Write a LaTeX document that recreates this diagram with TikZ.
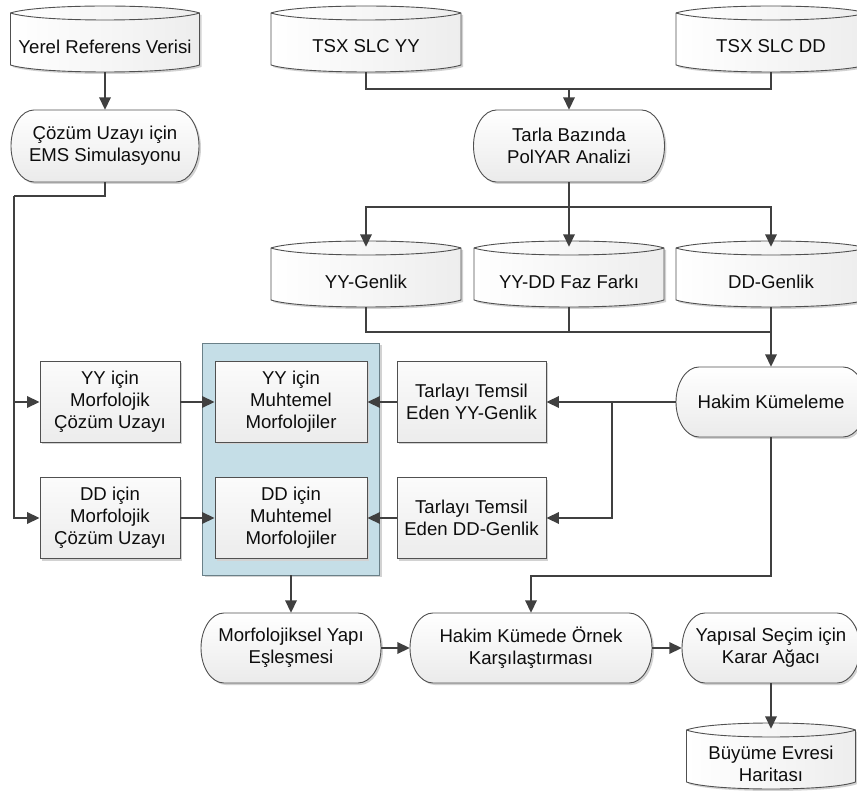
\documentclass[tikz,border=0pt]{standalone}
\usepackage{fontspec}
\setmainfont{Liberation Sans}
\usetikzlibrary{arrows.meta,calc,shadows}
\definecolor{lncol}{HTML}{404040}
\definecolor{shcol}{HTML}{505050}
\definecolor{shadowc}{HTML}{D2D2D2}
\definecolor{grpfill}{RGB}{197,222,231}
\definecolor{grpline}{HTML}{6A8088}
\tikzset{
 txt/.style={font=\fontsize{18.6}{22}\selectfont, align=center, inner sep=0pt, text=black!95},
 conn/.style={draw=lncol, line width=1.8pt},
 arr/.style={conn, -{Triangle[length=12.5pt,width=11.5pt]}},
 shapeline/.style={draw=shcol, line width=0.9pt},
 cylshade/.style={left color=white, right color=gray!14},
 stadshade/.style={top color=white, bottom color=gray!16},
 rbox/.style={txt, rectangle, shapeline, top color=gray!3, bottom color=gray!15,
   drop shadow={shadow xshift=2pt, shadow yshift=-2pt, fill=shadowc, opacity=1}},
 grpbox/.style={rectangle, draw=grpline, line width=0.9pt, fill=grpfill,
   drop shadow={shadow xshift=2pt, shadow yshift=-2pt, fill=shadowc, opacity=1}},
}
% cylinder-like data store: name, cx, top, width, height, text
\newcommand{\cyl}[6]{%
 \pgfmathsetmacro{\cL}{#2-#4/2}%
 \pgfmathsetmacro{\cR}{#2+#4/2}%
 \pgfmathsetmacro{\cLc}{#2-0.35*#4}%
 \pgfmathsetmacro{\cRc}{#2+0.35*#4}%
 \pgfmathsetmacro{\cA}{#3+7}%
 \pgfmathsetmacro{\cU}{#3-2.33}%
 \pgfmathsetmacro{\cD}{#3+16.33}%
 \pgfmathsetmacro{\cE}{#3+#5-7}%
 \pgfmathsetmacro{\cF}{#3+#5+2.33}%
 \pgfmathsetmacro{\cM}{#3+15+(#5-15)/2}%
 \pgfmathsetmacro{\cH}{#5-15}%
 \def\cylp{(\cL,\cA) .. controls (\cLc,\cU) and (\cRc,\cU) .. (\cR,\cA) -- (\cR,\cE) .. controls (\cRc,\cF) and (\cLc,\cF) .. (\cL,\cE) -- cycle}%
 \fill[shadowc, xshift=2pt, yshift=-2pt] \cylp;
 \shade[cylshade, shapeline] \cylp;
 \draw[shapeline] (\cL,\cA) .. controls (\cLc,\cD) and (\cRc,\cD) .. (\cR,\cA);
 \node[txt, minimum width={#4*1pt}, minimum height={\cH*1pt}] (#1) at (#2,\cM) {#6};
}
% stadium (terminator): name, L, R, T, B, rx, text
\newcommand{\stad}[7]{%
 \pgfmathsetmacro{\sCx}{(#2+#3)/2}%
 \pgfmathsetmacro{\sCy}{(#4+#5)/2}%
 \pgfmathsetmacro{\sRy}{(#5-#4)/2}%
 \pgfmathsetmacro{\sLa}{#2+#6}%
 \pgfmathsetmacro{\sRa}{#3-#6}%
 \pgfmathsetmacro{\sLb}{#2+#6-0.5523*#6}%
 \pgfmathsetmacro{\sRb}{#3-#6+0.5523*#6}%
 \pgfmathsetmacro{\sTy}{\sCy-0.5523*\sRy}%
 \pgfmathsetmacro{\sBy}{\sCy+0.5523*\sRy}%
 \def\stp{(\sLa,#4) -- (\sRa,#4) .. controls (\sRb,#4) and (#3,\sTy) .. (#3,\sCy) .. controls (#3,\sBy) and (\sRb,#5) .. (\sRa,#5) -- (\sLa,#5) .. controls (\sLb,#5) and (#2,\sBy) .. (#2,\sCy) .. controls (#2,\sTy) and (\sLb,#4) .. (\sLa,#4) -- cycle}%
 \fill[shadowc, xshift=2pt, yshift=-2pt] \stp;
 \shade[stadshade, shapeline] \stp;
 \node[txt, minimum width={(#3-#2)*1pt}, minimum height={(#5-#4)*1pt}] (#1) at (\sCx,\sCy) {#7};
}
\begin{document}
\begin{tikzpicture}[x=1pt,y=-1pt]
\path[use as bounding box] (0,0) rectangle (857,791);
\clip (0,0) rectangle (857,791);

% data stores
\cyl{yrv}{105}{6}{189}{66}{Yerel Referens Verisi}
\cyl{tsxyy}{366}{6}{190}{66}{TSX SLC YY}
\cyl{tsxdd}{771}{6}{190}{66}{TSX SLC DD}
\cyl{yyg}{366}{241}{190}{66}{YY-Genlik}
\cyl{faz}{569}{241}{190}{66}{YY-DD Faz Farkı}
\cyl{ddg}{771}{241}{190}{66}{DD-Genlik}
\cyl{buy}{771}{723}{169}{66}{Büyüme Evresi\\Haritası}

% terminators
\stad{cozum}{11}{199}{110}{182}{23}{Çözüm Uzayı için\\EMS Simulasyonu}
\stad{tarla}{473.5}{664.5}{110}{182}{23}{Tarla Bazında\\PolYAR Analizi}
\stad{hakim}{676}{866}{367}{437}{23}{Hakim Kümeleme}
\stad{morf}{201}{381}{613}{683}{23}{Morfolojiksel Yapı\\Eşleşmesi}
\stad{hkm}{410}{652}{613}{683}{23}{Hakim Kümede Örnek\\Karşılaştırması}
\stad{yap}{682}{860}{613}{683}{23}{Yapısal Seçim için\\Karar Ağacı}

% group and boxes
\node[grpbox, minimum width=177pt, minimum height=232pt] (grp) at (291,459) {};
\node[rbox, minimum width=140pt, minimum height=81pt] (yym) at (110,402) {YY için\\Morfolojik\\Çözüm Uzayı};
\node[rbox, minimum width=140pt, minimum height=81pt] (ddm) at (110,518) {DD için\\Morfolojik\\Çözüm Uzayı};
\node[rbox, minimum width=152pt, minimum height=81pt] (yymuh) at (291,402) {YY için\\Muhtemel\\Morfolojiler};
\node[rbox, minimum width=152pt, minimum height=81pt] (ddmuh) at (291,518) {DD için\\Muhtemel\\Morfolojiler};
\node[rbox, minimum width=149pt, minimum height=81pt] (tyy) at (471.5,402) {Tarlayı Temsil\\Eden YY-Genlik};
\node[rbox, minimum width=149pt, minimum height=81pt] (tdd) at (471.5,518) {Tarlayı Temsil\\Eden DD-Genlik};

% junctions
\coordinate (spl) at (14,196);
\coordinate (m1) at (569,89);
\coordinate (m2) at (569,207);
\coordinate (m3) at (771,332);
\coordinate (b1) at (612,402);
\coordinate (m4) at (531,576);

% connectors
\draw[arr] (yrv.south) -- (cozum.north);
\draw[conn] (cozum.south) |- (spl);
\draw[arr] (spl) |- (ddm.west);
\draw[arr] (spl |- yym.west) -- (yym.west);
\draw[arr] (yym.east) -- (yymuh.west);
\draw[arr] (ddm.east) -- (ddmuh.west);
\draw[conn] (tsxyy.south) |- (m1) -| (tsxdd.south);
\draw[arr] (m1) -- (tarla.north);
\draw[conn] (tarla.south) -- (m2);
\draw[arr] (m2) -| ($(yyg.north)+(0,-9)$);
\draw[arr] (m2) -- ($(faz.north)+(0,-9)$);
\draw[arr] (m2) -| ($(ddg.north)+(0,-9)$);
\draw[conn] (yyg.south) |- (m3);
\draw[conn] (faz.south) -- (faz.south |- m3);
\draw[arr] (ddg.south) -- (hakim.north);
\draw[arr] (hakim.west) -- (tyy.east);
\draw[arr] (b1) |- (tdd.east);
\draw[arr] (tyy.west) -- (yymuh.east);
\draw[arr] (tdd.west) -- (ddmuh.east);
\draw[arr] (grp.south) -- (morf.north);
\draw[arr] (hakim.south) |- (m4) -- (hkm.north);
\draw[arr] (morf.east) -- (hkm.west);
\draw[arr] (hkm.east) -- (yap.west);
\draw[arr] (yap.south) -- ($(buy.north)+(0,-9)$);
\end{tikzpicture}
\end{document}
